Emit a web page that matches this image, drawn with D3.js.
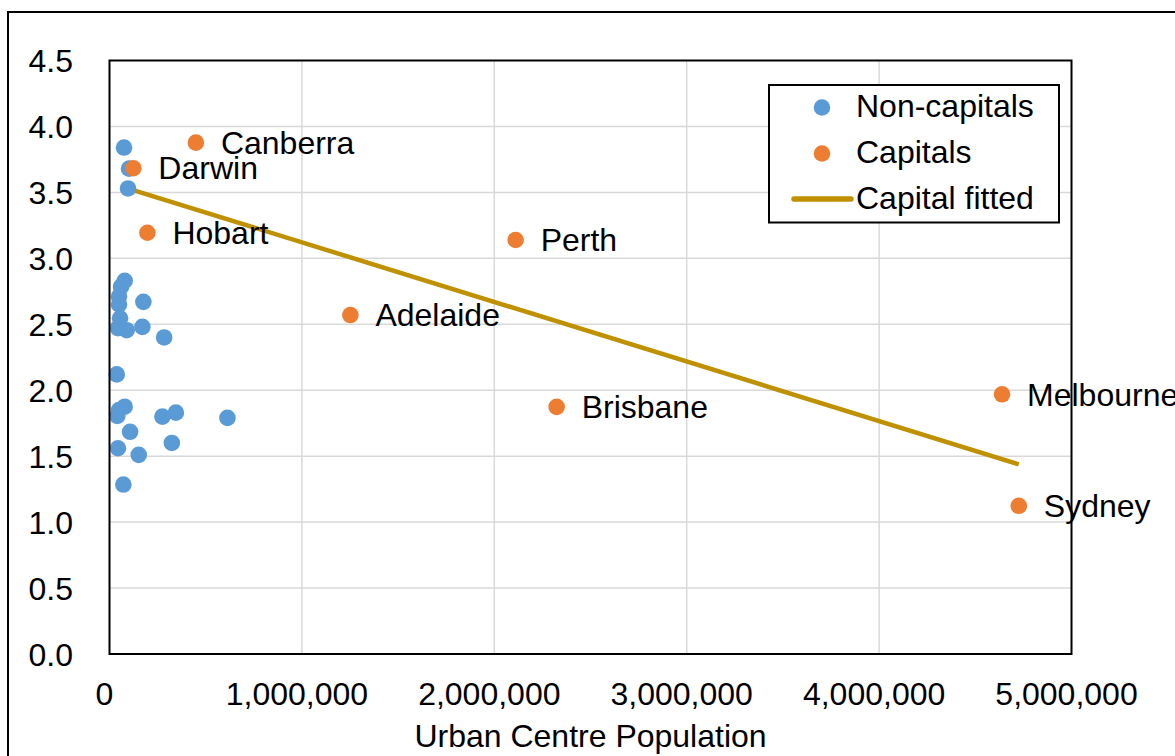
<!DOCTYPE html>
<html>
<head>
<meta charset="utf-8">
<script src="https://cdn.jsdelivr.net/npm/d3@7"></script>
<style>
  html, body { margin: 0; padding: 0; background: #fff; }
  svg { display: block; }
  text { font-family: "Liberation Sans", Arial, sans-serif; fill: #000; }
</style>
</head>
<body>
<svg id="chart" width="1175" height="756"></svg>
<script>
// ---- data ----
const nonCapPop = [75500, 101500, 96300, 79100, 60000, 49500, 49500, 176000, 54700, 44000, 89500, 171000, 284000, 37500, 79000, 49500, 40600, 275000, 345000, 613000, 107000, 44000, 324000, 152000, 72000];
const nonCapRatio = [3.84, 3.68, 3.53, 2.83, 2.785, 2.71, 2.65, 2.67, 2.545, 2.47, 2.455, 2.48, 2.40, 2.12, 1.875, 1.85, 1.805, 1.80, 1.83, 1.79, 1.685, 1.56, 1.60, 1.51, 1.285];

const capNames = ["Canberra", "Darwin", "Hobart", "Perth", "Adelaide", "Brisbane", "Melbourne", "Sydney"];
const capPop = [449000, 124000, 197000, 2111000, 1252000, 2324000, 4639000, 4726000];
const capRatio = [3.877, 3.683, 3.194, 3.139, 2.570, 1.874, 1.969, 1.124];

const fitPop = [93000, 4726000];
const fitRatio = [3.531, 1.438];

const xTicks = [0, 1000000, 2000000, 3000000, 4000000, 5000000];
const yTicks = [0, 0.5, 1.0, 1.5, 2.0, 2.5, 3.0, 3.5, 4.0, 4.5];
const legendLabels = ["Non-capitals", "Capitals", "Capital fitted"];
const xTitle = "Urban Centre Population";

// ---- layout ----
const L = 109.5, R = 1071.5, T = 60.5, B = 654;
const FS = 32;
const blue = "#5B9BD5", orange = "#ED7D31", gold = "#BF9000", grid = "#D9D9D9";

const svg = d3.select("#chart");
svg.append("rect").attr("width", 1175).attr("height", 756).attr("fill", "#fff");
// outer chart border
svg.append("rect").attr("x", 8).attr("y", 12).attr("width", 1300).attr("height", 900)
  .attr("fill", "none").attr("stroke", "#000").attr("stroke-width", 2);

const x = d3.scaleLinear().domain([0, 5000000]).range([L, R]);
const y = d3.scaleLinear().domain([0, 4.5]).range([B, T]);

// gridlines
svg.append("g").selectAll("line.h").data(yTicks.filter(d => d > 0 && d < 4.5)).join("line")
  .attr("x1", L).attr("x2", R).attr("y1", d => y(d)).attr("y2", d => y(d))
  .attr("stroke", grid).attr("stroke-width", 1.5);
svg.append("g").selectAll("line.v").data(xTicks.filter(d => d > 0 && d < 5000000)).join("line")
  .attr("x1", d => x(d)).attr("x2", d => x(d)).attr("y1", T).attr("y2", B)
  .attr("stroke", grid).attr("stroke-width", 1.5);

// axes (labels only, via d3 axis)
const fmtX = d3.format(",");
const xAxis = svg.append("g").attr("transform", `translate(-5.5,${B})`)
  .call(d3.axisBottom(x).tickValues(xTicks).tickFormat(d => d === 0 ? "0" : fmtX(d)).tickSize(0).tickPadding(0));
xAxis.select(".domain").remove();
xAxis.selectAll("text").attr("y", 51).attr("dy", null).style("font-size", FS + "px")
  .style("font-family", '"Liberation Sans", Arial, sans-serif').attr("fill", "#000");

const yAxis = svg.append("g").attr("transform", `translate(73,0)`)
  .call(d3.axisLeft(y).tickValues(yTicks).tickFormat(d3.format(".1f")).tickSize(0).tickPadding(0));
yAxis.select(".domain").remove();
yAxis.selectAll("text").attr("x", 0).attr("dy", "0.35em").style("font-size", FS + "px")
  .style("font-family", '"Liberation Sans", Arial, sans-serif').attr("fill", "#000");

// axis title
svg.append("text").attr("x", (L + R) / 2).attr("y", 747).attr("text-anchor", "middle")
  .style("font-size", FS + "px").text(xTitle);

// fitted line
const line = d3.line().x(d => x(d[0])).y(d => y(d[1]));
svg.append("path").datum(fitPop.map((p, i) => [p, fitRatio[i]]))
  .attr("d", line).attr("fill", "none").attr("stroke", gold).attr("stroke-width", 4.5);

// non-capital points
svg.append("g").selectAll("circle").data(nonCapPop.map((p, i) => [p, nonCapRatio[i]])).join("circle")
  .attr("cx", d => x(d[0])).attr("cy", d => y(d[1])).attr("r", 8.3).attr("fill", blue);

// capital points
const caps = capNames.map((n, i) => ({ n, p: capPop[i], r: capRatio[i] }));
svg.append("g").selectAll("circle").data(caps).join("circle")
  .attr("cx", d => x(d.p)).attr("cy", d => y(d.r)).attr("r", 8.3).attr("fill", orange);

// plot border
svg.append("rect").attr("x", L).attr("y", T).attr("width", R - L).attr("height", B - T)
  .attr("fill", "none").attr("stroke", "#000").attr("stroke-width", 2);

// capital labels
svg.append("g").selectAll("text").data(caps).join("text")
  .attr("x", d => x(d.p) + 25).attr("y", d => y(d.r)).attr("dy", "0.35em")
  .style("font-size", FS + "px").text(d => d.n);

// legend
const lg = svg.append("g");
lg.append("rect").attr("x", 769).attr("y", 85).attr("width", 290).attr("height", 137.5)
  .attr("fill", "#fff").attr("stroke", "#000").attr("stroke-width", 2);
const rows = [117, 163, 209];
lg.append("circle").attr("cx", 822).attr("cy", rows[0] - 9.5).attr("r", 8.3).attr("fill", blue);
lg.append("circle").attr("cx", 822).attr("cy", rows[1] - 9.5).attr("r", 8.3).attr("fill", orange);
lg.append("line").attr("x1", 794).attr("x2", 851).attr("y1", rows[2] - 10).attr("y2", rows[2] - 10)
  .attr("stroke", gold).attr("stroke-width", 5.5).attr("stroke-linecap", "round");
lg.selectAll("text").data(legendLabels).join("text")
  .attr("x", 856).attr("y", (d, i) => rows[i]).style("font-size", FS + "px").text(d => d);
</script>
</body>
</html>
